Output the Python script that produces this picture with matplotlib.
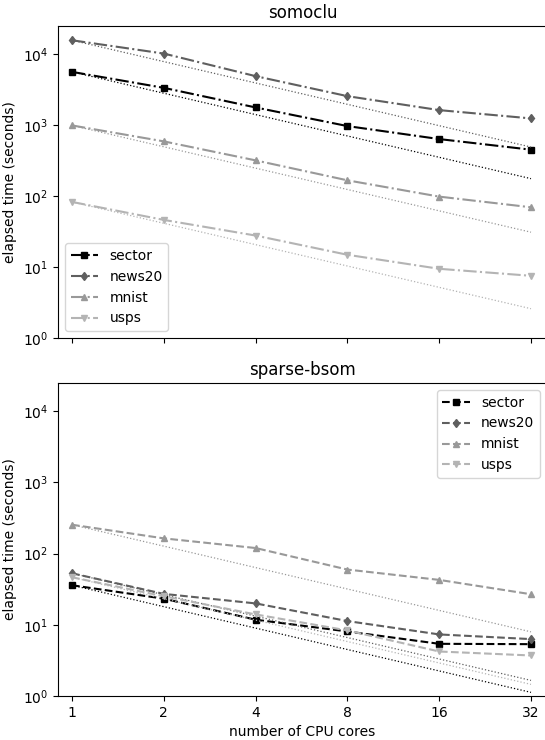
import matplotlib
matplotlib.use("Agg")
import matplotlib.pyplot as plt
import numpy as np

cores = [1, 2, 4, 8, 16, 32]
datasets = ["sector", "news20", "mnist", "usps"]

somoclu_sector = [5640, 3360, 1778, 971, 637, 451]
somoclu_news20 = [15740, 10220, 4910, 2565, 1630, 1245]
somoclu_mnist = [992, 591, 319, 167, 98.4, 69.6]
somoclu_usps = [82.8, 46.2, 27.8, 14.9, 9.45, 7.53]

bsom_sector = [36, 23.3, 11.8, 8.07, 5.41, 5.35]
bsom_news20 = [53, 27.2, 20.0, 11.3, 7.33, 6.3]
bsom_mnist = [255, 164, 120, 59.8, 42.8, 26.9]
bsom_usps = [46.6, 25.2, 14.0, 8.34, 4.22, 3.71]

colors = ["#000000", "#5f5f5f", "#999999", "#b4b4b4"]
markers = ["s", "d", "^", "v"]

fig = plt.figure(figsize=(5.45, 7.4), dpi=100)
W = (547 - 58) / 545
ax1 = fig.add_axes([58/545, 1-338/740, W, (338-26)/740])
ax2 = fig.add_axes([58/545, 1-696/740, W, (696-383)/740], sharex=ax1)

panels = [
    (ax1, "somoclu", [somoclu_sector, somoclu_news20, somoclu_mnist, somoclu_usps], "-.", "lower left"),
    (ax2, "sparse-bsom", [bsom_sector, bsom_news20, bsom_mnist, bsom_usps], "--", "upper right"),
]

c = np.array(cores, dtype=float)
for ax, title, series, ls, loc in panels:
    for name, vals, col, mk in zip(datasets, series, colors, markers):
        ax.plot(cores, vals, linestyle=ls, color=col, marker=mk, markersize=4.5,
                linewidth=1.5, label=name)
        ax.plot(cores, vals[0] / c, linestyle=":", color=col, linewidth=0.9)
    ax.set_xscale("log", base=2)
    ax.set_yscale("log")
    ax.set_ylim(1, 2.5e4)
    ax.set_xlim(2 ** (-14/91.8), 2 ** (5 + 16/91.8))
    ax.yaxis.set_minor_locator(matplotlib.ticker.NullLocator())
    ax.xaxis.set_minor_locator(matplotlib.ticker.NullLocator())
    ax.set_xticks(cores)
    ax.set_xticklabels([str(v) for v in cores])
    ax.set_ylabel("elapsed time (seconds)")
    ax.set_title(title)
    leg = ax.legend(loc=loc)

ax1.tick_params(axis="x", labelbottom=False)
ax2.set_xlabel("number of CPU cores")

fig.savefig("out.png", dpi=100)
